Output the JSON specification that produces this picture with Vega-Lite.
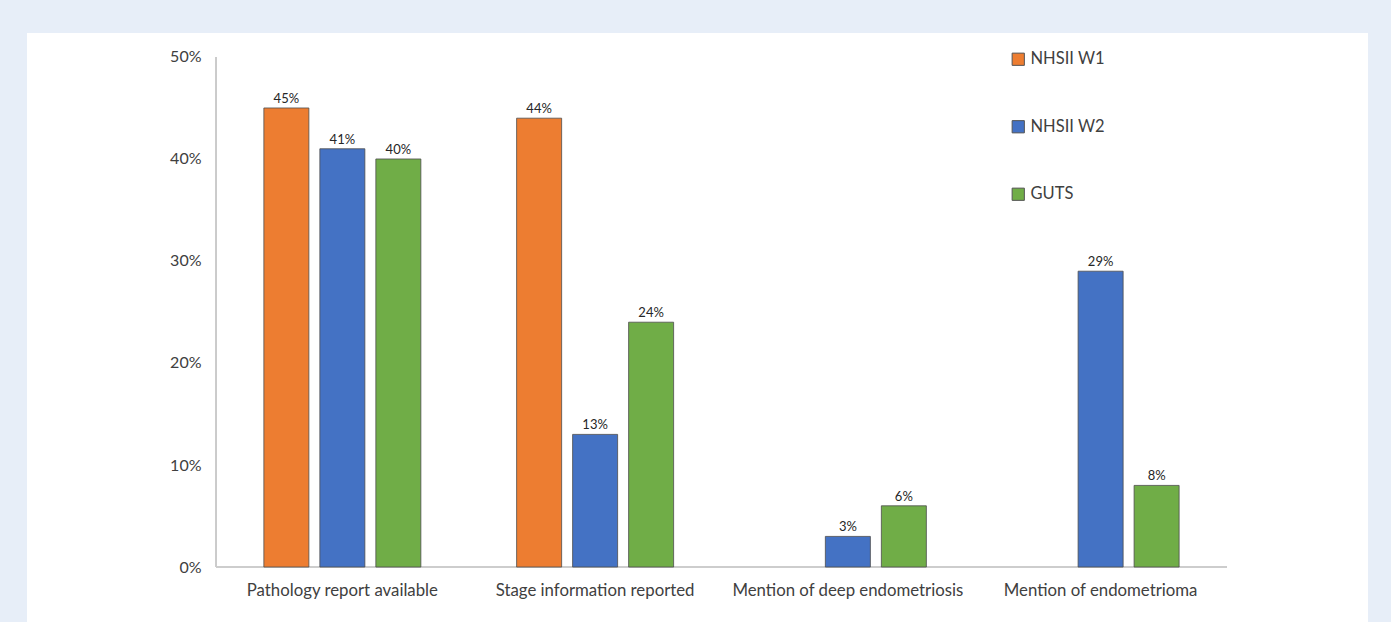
{
  "$schema": "https://vega.github.io/schema/vega-lite/v6.json",
  "width": 1341,
  "height": 589,
  "autosize": {"type": "none"},
  "padding": {"left": 27, "top": 33, "right": 23, "bottom": 0},
  "background": "#e7eef8",
  "config": {"view": {"fill": "white", "stroke": null}, "font": "Lato"},
  "data": {
    "values": [
      {"category": "Pathology report available", "series": "NHSII W1", "value": 0.45},
      {"category": "Pathology report available", "series": "NHSII W2", "value": 0.41},
      {"category": "Pathology report available", "series": "GUTS", "value": 0.40},
      {"category": "Stage information reported", "series": "NHSII W1", "value": 0.44},
      {"category": "Stage information reported", "series": "NHSII W2", "value": 0.13},
      {"category": "Stage information reported", "series": "GUTS", "value": 0.24},
      {"category": "Mention of deep endometriosis", "series": "NHSII W2", "value": 0.03},
      {"category": "Mention of deep endometriosis", "series": "GUTS", "value": 0.06},
      {"category": "Mention of endometrioma", "series": "NHSII W2", "value": 0.29},
      {"category": "Mention of endometrioma", "series": "GUTS", "value": 0.08}
    ]
  },
  "encoding": {
    "x": {
      "field": "category",
      "type": "nominal",
      "sort": null,
      "scale": {
        "domain": ["Pathology report available", "Stage information reported", "Mention of deep endometriosis", "Mention of endometrioma"],
        "paddingInner": 0,
        "paddingOuter": 0.6528,
        "align": 0.5727
      },
      "axis": {
        "title": null,
        "labelAngle": 0,
        "domain": false,
        "ticks": false,
        "offset": -55,
        "labelPadding": 15,
        "labelFontSize": 16.8,
        "labelLimit": 400,
        "labelColor": "#404040"
      }
    }
  },
  "layer": [
    {
      "mark": {"type": "rule", "color": "#cccccc", "strokeWidth": 1.5},
      "encoding": {
        "x": {"datum": "Pathology report available", "type": "nominal", "bandPosition": 0},
        "y": {"datum": 0, "type": "quantitative"},
        "y2": {"datum": 0.5}
      }
    },
    {
      "mark": {"type": "rule", "color": "#cccccc", "strokeWidth": 1.5},
      "encoding": {
        "x": {"datum": "Pathology report available", "type": "nominal", "bandPosition": 0},
        "x2": {"datum": "Mention of endometrioma", "bandPosition": 1},
        "y": {"datum": 0, "type": "quantitative"}
      }
    },
    {
      "mark": {"type": "bar", "stroke": "#4d4d4d", "strokeWidth": 0.8},
      "encoding": {
        "xOffset": {
          "field": "series",
          "type": "nominal",
          "scale": {"domain": ["NHSII W1", "NHSII W2", "GUTS"], "paddingInner": 0.196, "paddingOuter": 0.855}
        },
        "y": {
          "field": "value",
          "type": "quantitative",
          "scale": {"domain": [-0.0539, 0.5235], "nice": false, "zero": false},
          "axis": {
            "values": [0, 0.1, 0.2, 0.3, 0.4, 0.5],
            "format": ".0%",
            "title": null,
            "domain": false,
            "ticks": false,
            "grid": false,
            "offset": -189,
            "labelPadding": 15,
            "labelFontSize": 16,
            "labelColor": "#404040"
          }
        },
        "y2": {"datum": 0},
        "color": {
          "field": "series",
          "type": "nominal",
          "scale": {"domain": ["NHSII W1", "NHSII W2", "GUTS"], "range": ["#ED7D31", "#4472C4", "#70AD47"]},
          "legend": {
            "title": null,
            "orient": "none",
            "legendX": 983,
            "legendY": 18,
            "symbolType": "square",
            "symbolSize": 150,
            "symbolStrokeColor": "#555555",
            "symbolStrokeWidth": 1,
            "labelFontSize": 16.5,
            "labelColor": "#404040",
            "labelOffset": 4,
            "rowPadding": 50.5
          }
        }
      }
    },
    {
      "mark": {"type": "text", "dy": -9, "fontSize": 13, "color": "#262626"},
      "encoding": {
        "xOffset": {
          "field": "series",
          "type": "nominal",
          "scale": {"domain": ["NHSII W1", "NHSII W2", "GUTS"], "paddingInner": 0.196, "paddingOuter": 0.855}
        },
        "y": {"field": "value", "type": "quantitative"},
        "text": {"field": "value", "type": "quantitative", "format": ".0%"}
      }
    }
  ]
}
